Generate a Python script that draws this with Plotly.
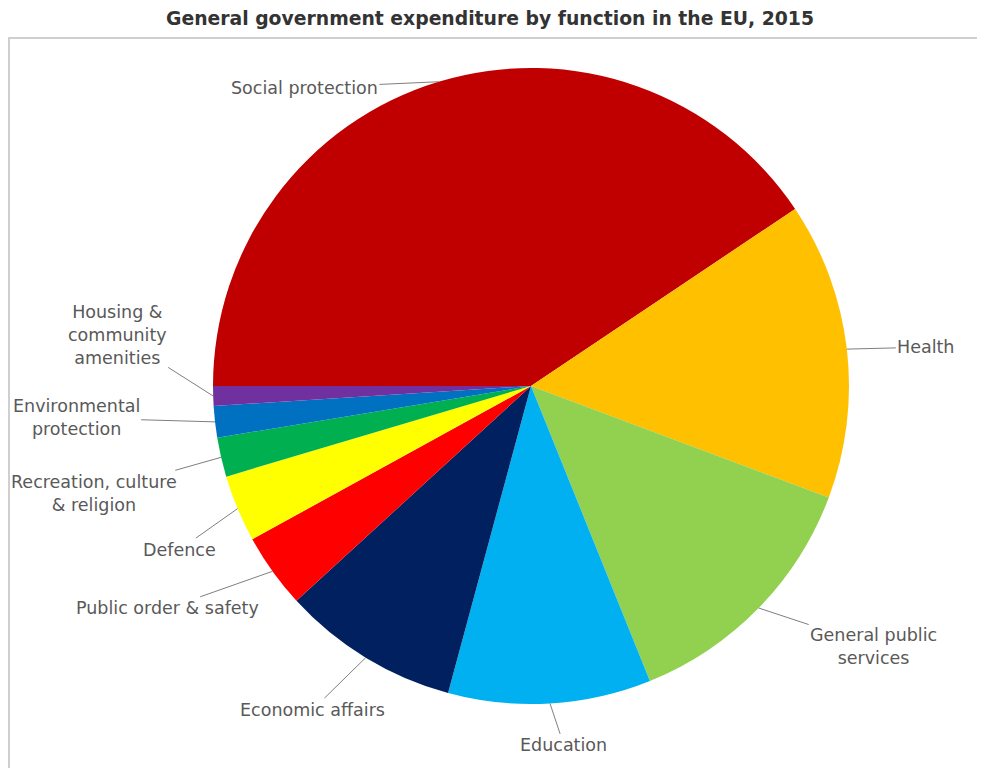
import math
import plotly.graph_objects as go

# ---- data (% of total expenditure) ----
labels = [
    "Social protection", "Health", "General public services", "Education",
    "Economic affairs", "Public order & safety", "Defence",
    "Recreation, culture & religion", "Environmental protection",
    "Housing & community amenities",
]
display_labels = [
    "Social protection", "Health", "General public<br>services", "Education",
    "Economic affairs", "Public order & safety", "Defence",
    "Recreation, culture<br>& religion", "Environmental<br>protection",
    "Housing &<br>community<br>amenities",
]
values = [40.6, 15.1, 13.2, 10.3, 9.0, 3.8, 3.4, 2.0, 1.6, 1.0]
colors = ["#C00000", "#FFC000", "#92D050", "#00B0F0", "#002060",
          "#FF0000", "#FFFF00", "#00B050", "#0070C0", "#7030A0"]

# ---- layout / style constants ----
W, H = 985, 768
OFF = 8                                  # page body margin
CX, CY, R = 531 - OFF, 386 - OFF, 318    # pie centre / radius in figure pixels
dom_x = [(CX - R) / W, (CX + R) / W]
dom_y = [(H - CY - R) / H, (H - CY + R) / H]
ROTATION = 270                           # first slice starts at 9 o'clock
# label offsets (pixels) of each label's text centre relative to slice edge
label_offsets = [(-134, 6), (79, -2), (115, 38), (14, 42), (-53, 52),
                 (-105, 37), (-58, 41), (-127, 36), (-139, -4), (-96, -61)]
LABEL_FONT = dict(family="DejaVu Sans, Verdana, sans-serif", size=17.5,
                  color="#595959")

fig = go.Figure(go.Pie(
    labels=labels, values=values, sort=False, direction="clockwise",
    rotation=ROTATION, textinfo="none", hoverinfo="label+value",
    marker=dict(colors=colors, line=dict(width=0)),
    domain=dict(x=dom_x, y=dom_y), showlegend=False,
))

# leader-line labels computed from the data
total = sum(values)
cum = 0.0
annotations = []
for lab, v, (ox, oy) in zip(display_labels, values, label_offsets):
    mid = (cum + v / 2) / total
    cum += v
    ang = math.radians(180 - 360 * mid)   # clockwise from 9 o'clock
    px = CX + R * math.cos(ang)
    py = (H - CY) + R * math.sin(ang)     # y from bottom
    annotations.append(dict(
        x=px / W, y=py / H, xref="paper", yref="paper",
        text=lab, showarrow=True, arrowhead=0, arrowwidth=1,
        arrowcolor="#7f7f7f", ax=ox, ay=oy, standoff=0,
        font=LABEL_FONT, align="center",
    ))

fig.update_layout(
    width=W, height=H, margin=dict(l=0, r=0, t=0, b=0),
    paper_bgcolor="white", plot_bgcolor="white",
    title=dict(text="<b>General government expenditure by function in the EU, 2015</b>",
               x=(490 - OFF) / W, xanchor="center", y=1 - (18 - OFF) / H,
               yanchor="middle",
               font=dict(family="DejaVu Sans, Verdana, sans-serif", size=18.8,
                         color="#333333")),
    annotations=annotations,
    shapes=[dict(type="rect", xref="paper", yref="paper",
                 x0=1 / W, x1=(980 - OFF) / W, y0=-0.05, y1=1 - (38 - OFF) / H,
                 line=dict(color="#cfcfcf", width=2), layer="below")],
)

fig.write_html("out.html")
